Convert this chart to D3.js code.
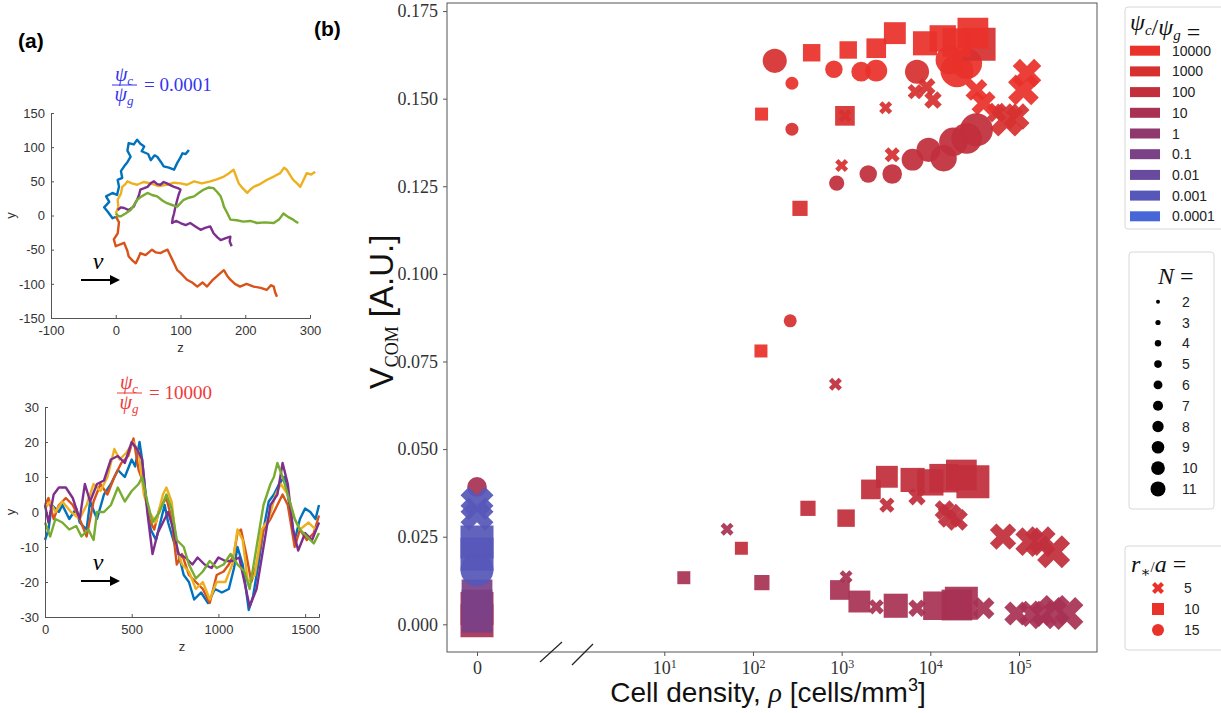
<!DOCTYPE html>
<html lang="en">
<head>
<meta charset="UTF-8">
<title>Cell cluster velocity</title>
<style>
  body { margin: 0; background: #fff; }
  svg { display: block; }
</style>
</head>
<body>
<script src="https://cdn.jsdelivr.net/npm/d3@7"></script>
<script>
// ---------- panel (a) data: hand-read trajectories [z, y] ----------
var walkBlueA  = [[0,-2],[-5,-4],[-12,5],[-18,12],[-10,20],[-15,28],[-5,33],[2,30],[5,42],[3,52],[10,55],[8,65],[13,72],[18,78],[23,86],[18,95],[20,106],[28,104],[33,111],[38,105],[44,101],[40,94],[50,90],[54,81],[60,88],[64,86],[70,78],[74,72],[82,70],[90,67],[95,77],[100,85],[103,91],[108,90],[113,96]];
var walkOrangeA = [[0,-1],[5,-10],[3,-26],[-3,-35],[0,-45],[8,-42],[13,-40],[18,-52],[20,-60],[26,-66],[31,-70],[35,-62],[38,-55],[46,-58],[56,-50],[62,-54],[69,-55],[75,-52],[80,-50],[86,-62],[90,-70],[95,-80],[100,-84],[106,-90],[110,-94],[118,-98],[126,-104],[134,-98],[141,-104],[149,-95],[156,-89],[162,-84],[167,-80],[172,-88],[177,-94],[184,-100],[192,-104],[202,-100],[213,-104],[224,-106],[233,-109],[240,-102],[244,-104],[246,-112],[249,-119]];
var walkYellowA = [[0,3],[4,12],[3,23],[8,32],[10,42],[15,46],[18,50],[25,47],[33,45],[43,49],[54,47],[66,43],[79,45],[90,48],[100,47],[110,45],[121,50],[133,47],[146,50],[156,53],[167,57],[175,62],[182,67],[186,57],[190,47],[196,40],[203,33],[208,38],[213,42],[223,46],[233,52],[244,57],[254,62],[260,70],[264,67],[270,58],[274,52],[280,47],[285,42],[290,52],[295,62],[302,60],[308,64]];
var walkPurpleA = [[3,8],[8,12],[13,11],[20,8],[28,13],[30,18],[33,23],[36,30],[38,38],[44,40],[49,42],[55,48],[59,50],[64,46],[69,45],[74,49],[79,47],[85,44],[90,42],[96,40],[100,38],[97,30],[95,23],[92,12],[90,3],[88,-4],[87,-11],[93,-8],[100,-11],[108,-14],[115,-11],[123,-16],[131,-21],[138,-18],[146,-16],[149,-22],[151,-26],[157,-32],[162,-36],[170,-33],[177,-31],[176,-38],[179,-45]];
var walkGreenA  = [[0,3],[4,-1],[8,-1],[15,3],[23,8],[28,15],[33,23],[40,28],[49,33],[56,30],[64,28],[72,22],[79,18],[88,15],[95,13],[100,18],[105,23],[113,26],[121,28],[128,33],[136,38],[144,41],[151,40],[157,34],[162,28],[165,20],[167,13],[172,4],[177,-6],[187,-7],[197,-9],[208,-8],[218,-11],[230,-10],[244,-11],[252,-6],[259,3],[266,-2],[274,-6],[278,-9],[282,-11]];

var walkBlueB   = [[0,-8],[20,-5],[40,2],[80,0],[100,2],[140,-2],[180,1],[200,-3],[240,-5],[260,3],[300,-2],[340,5],[380,8],[420,12],[460,10],[500,15],[520,13],[545,20],[560,15],[580,5],[610,-5],[640,-8],[670,-2],[690,2],[710,-3],[740,-8],[770,-12],[800,-18],[830,-20],[860,-25],[900,-23],[940,-26],[980,-22],[1020,-23],[1060,-22],[1090,-16],[1110,-10],[1140,-15],[1175,-28],[1200,-24],[1230,-15],[1260,-5],[1290,3],[1320,5],[1350,8],[1380,10],[1410,2],[1440,-8],[1470,-2],[1500,1],[1530,0],[1560,-2],[1580,2]];
var walkOrangeB = [[0,2],[20,4],[50,-2],[80,2],[120,4],[160,2],[200,-2],[240,-7],[280,3],[320,8],[360,5],[400,10],[440,14],[480,16],[510,21],[540,12],[570,8],[600,-2],[630,-5],[660,1],[700,4],[730,-2],[760,-15],[790,-12],[830,-18],[870,-20],[910,-22],[950,-26],[990,-18],[1030,-17],[1060,-15],[1090,-12],[1110,-6],[1130,-5],[1160,-12],[1190,-20],[1220,-15],[1260,-5],[1300,-2],[1340,2],[1370,5],[1400,2],[1440,-10],[1470,-5],[1510,-8],[1550,-6],[1580,-1]];
var walkYellowB = [[0,1],[30,3],[60,0],[100,3],[150,0],[200,-2],[240,2],[280,8],[320,6],[360,10],[400,18],[430,15],[470,17],[510,20],[540,17],[570,5],[600,0],[640,-3],[680,5],[700,7],[730,3],[760,-10],[790,-15],[830,-17],[870,-22],[910,-20],[950,-25],[990,-20],[1040,-20],[1080,-15],[1110,-5],[1140,-8],[1170,-20],[1210,-18],[1250,-5],[1290,-2],[1330,5],[1360,8],[1400,5],[1440,-2],[1470,-5],[1520,-3],[1560,-5],[1580,-3]];
var walkPurpleB = [[0,2],[20,-3],[50,5],[80,7],[120,7],[160,4],[200,-2],[230,8],[260,3],[300,8],[340,9],[380,15],[420,16],[460,14],[500,20],[530,18],[560,15],[590,0],[620,-12],[650,-6],[680,-3],[710,0],[740,-5],[770,-12],[810,-13],[850,-15],[880,-13],[920,-15],[960,-16],[1000,-13],[1040,-14],[1080,-14],[1120,-13],[1150,-20],[1180,-27],[1220,-22],[1260,-10],[1300,2],[1340,5],[1370,14],[1400,8],[1430,-5],[1460,-11],[1500,-6],[1540,-8],[1580,-3]];
var walkGreenB  = [[0,-3],[30,-7],[60,-2],[100,-3],[140,-5],[180,-4],[210,-7],[250,-5],[280,-8],[300,0],[340,0],[380,2],[420,7],[460,3],[500,6],[540,8],[560,10],[590,3],[620,-3],[660,0],[700,5],[730,1],[760,-8],[800,-10],[830,-15],[870,-19],[910,-17],[950,-14],[990,-16],[1030,-15],[1070,-12],[1110,-15],[1150,-17],[1180,-22],[1220,-10],[1260,2],[1300,8],[1320,10],[1340,14],[1370,10],[1400,5],[1440,-2],[1470,-5],[1510,-7],[1550,-9],[1580,-6]];

// ---------- panel (b) data: [rho cells/mm3, V_COM, N] ----------
var psiLabels = ["10000","1000","100","10","1","0.1","0.01","0.001","0.0001"];
var nValues = [2,3,4,5,6,7,8,9,10,11];
var rLabels = ["5","10","15"];

var circ10000 = [[818,0.1584,4],[275,0.1544,2],[1660,0.1577,5],[2455,0.1580,6],[16596,0.1610,9],[25704,0.1600,10],[19953,0.1580,11]];
var circ1000  = [[176,0.1608,7],[275,0.1413,2],[263,0.0866,2],[7079,0.1577,7]];
var circ100   = [[879,0.1259,3],[1995,0.1285,4],[3715,0.1285,5],[6310,0.1326,6],[9550,0.1354,7],[14125,0.1330,8],[18197,0.1377,9],[25704,0.1387,10],[33113,0.1411,11]];
var sq10000   = [[459,0.1631,4],[1186,0.1639,4],[125,0.1456,2],[123,0.0780,2],[2455,0.1644,5],[3981,0.1687,6],[8710,0.1658,7],[13804,0.1672,8],[19953,0.1660,9],[30200,0.1687,10]];
var sq1000    = [[1089,0.1451,5],[339,0.1187,3],[35481,0.1655,11]];
var sq100     = [[74,0.0217,2],[417,0.0331,3],[1122,0.0303,4],[2138,0.0385,5],[3236,0.0421,6],[6310,0.0412,7],[10000,0.0405,8],[14125,0.0417,9],[22387,0.0426,10],[30200,0.0407,11]];
var sq10      = [[16.6,0.0133,2],[126,0.0119,3],[955,0.0098,5],[1585,0.0065,6],[4074,0.0053,7],[12023,0.0053,9],[19953,0.0055,10],[22387,0.0060,11]];
var x10000    = [[1089,0.1451,2],[33113,0.1525,6],[39811,0.1487,7],[123027,0.1573,9],[112202,0.1525,10]];
var x1000     = [[3133,0.1474,2],[1000,0.1309,2],[3715,0.1340,3],[6761,0.1520,3],[9120,0.1534,4],[10715,0.1496,4],[56234,0.1460,5],[93325,0.1449,8],[72444,0.1439,11]];
var x100      = [[851,0.0685,2],[3236,0.0340,3],[7079,0.0364,4],[14454,0.0326,5],[19953,0.0298,6],[16596,0.0310,7],[66069,0.0250,8],[131826,0.0236,9],[173780,0.0236,10],[245471,0.0207,11]];
var x10       = [[51,0.0271,2],[1122,0.0136,2],[2455,0.0050,3],[7079,0.0046,4],[39811,0.0046,6],[93325,0.0031,7],[141254,0.0030,8],[186209,0.0027,9],[251189,0.0040,10],[346737,0.0031,11]];
// isolated cells (rho = 0)
var zeroCirc10  = [[0,0.0392,5]];
var zeroSq10    = [[0,0.0010,11],[0,0.0045,11]];
var zeroSq01    = [[0,0.0020,10],[0,0.0055,10],[0,0.0084,10]];
var zeroSq0001  = [[0,0.0235,11],[0,0.0200,11]];
var zeroCirc0001 = [[0,0.0155,11]];
var zeroX0001   = [[0,0.0345,11],[0,0.0315,11]];

var psiColors = ["#e8322a","#d6302f","#c22e3c","#a83154","#8f386d","#7b4186","#684a9f","#5657b8","#4766d8"];
var walkColors = ["#0072BD","#D95319","#EDB120","#7E2F8E","#77AC30"];
var sans = "'Liberation Sans', Arial, sans-serif";
var serif = "'Liberation Serif', 'DejaVu Serif', serif";

var svg = d3.select("body").append("svg").attr("width", 1221).attr("height", 713);

// ================= panel (a) =================
function walkPanel(opts) {
  var x = d3.scaleLinear().domain(opts.xd).range(opts.xr);
  var y = d3.scaleLinear().domain(opts.yd).range(opts.yr);
  var g = svg.append("g");
  var line = d3.line().x(function(d){ return x(d[0]); }).y(function(d){ return y(d[1]); });
  opts.walks.forEach(function(w, i) {
    g.append("path").datum(w).attr("d", line).attr("fill", "none")
      .attr("stroke", walkColors[i]).attr("stroke-width", 2.4).attr("stroke-linejoin", "round");
  });
  var plain = function(d) { return String(d); };
  var ax = g.append("g").attr("transform", "translate(0," + opts.yr[0] + ")")
    .call(d3.axisBottom(x).tickValues(opts.xt).tickFormat(plain).tickSize(-3).tickPadding(8));
  var ay = g.append("g").attr("transform", "translate(" + opts.xr[0] + ",0)")
    .call(d3.axisLeft(y).tickValues(opts.yt).tickFormat(plain).tickSize(-3).tickPadding(6));
  [ax, ay].forEach(function(a) {
    a.selectAll("text").attr("font-family", sans).attr("font-size", 13).attr("fill", "#333");
    a.selectAll("line, path").attr("stroke", "#555");
  });
  g.append("text").attr("x", (opts.xr[0] + opts.xr[1]) / 2).attr("y", opts.yr[0] + 34)
    .attr("text-anchor", "middle").attr("font-family", sans).attr("font-size", 13).attr("fill", "#333").text("z");
  g.append("text").attr("transform", "translate(15," + (opts.yr[0] + opts.yr[1]) / 2 + ") rotate(-90)")
    .attr("text-anchor", "middle").attr("font-family", sans).attr("font-size", 13).attr("fill", "#333").text("y");
  // title: psi_c / psi_g = value
  var t = g.append("g").attr("transform", "translate(" + opts.tx + "," + opts.ty + ")")
    .attr("fill", opts.tc).attr("font-family", serif).attr("font-style", "italic");
  var num = t.append("text").attr("x", 12).attr("y", -4).attr("text-anchor", "middle").attr("font-size", 20).text("ψ");
  num.append("tspan").attr("font-size", 13).attr("dy", 4).text("c");
  var den = t.append("text").attr("x", 12).attr("y", 16).attr("text-anchor", "middle").attr("font-size", 20).text("ψ");
  den.append("tspan").attr("font-size", 13).attr("dy", 4).text("g");
  t.append("line").attr("x1", 0).attr("x2", 25).attr("y1", 0).attr("y2", 0).attr("stroke", opts.tc).attr("stroke-width", 1);
  t.append("text").attr("x", 32).attr("y", 6).attr("font-style", "normal").attr("font-size", 19).text("= " + opts.tv);
  // velocity arrow
  g.append("line").attr("x1", 81).attr("x2", 113).attr("y1", opts.ay).attr("y2", opts.ay)
    .attr("stroke", "#000").attr("stroke-width", 2);
  g.append("path").attr("d", "M" + 120 + "," + opts.ay + "l-10,-5l0,10z").attr("fill", "#000");
  g.append("text").attr("x", 98).attr("y", opts.ay - 11).attr("text-anchor", "middle")
    .attr("font-family", serif).attr("font-style", "italic").attr("font-size", 24).text("v");
}

walkPanel({
  xd: [-100, 300], xr: [51, 310], yd: [-150, 150], yr: [318, 113],
  xt: [-100, 0, 100, 200, 300], yt: [-150, -100, -50, 0, 50, 100, 150],
  walks: [walkBlueA, walkOrangeA, walkYellowA, walkPurpleA, walkGreenA],
  tx: 112, ty: 85, tc: "#3535f0", tv: "0.0001", ay: 280
});
walkPanel({
  xd: [0, 1580], xr: [45, 319], yd: [-30, 30], yr: [617, 407],
  xt: [0, 500, 1000, 1500], yt: [-30, -20, -10, 0, 10, 20, 30],
  walks: [walkBlueB, walkOrangeB, walkYellowB, walkPurpleB, walkGreenB],
  tx: 117, ty: 393, tc: "#f03a3a", tv: "10000", ay: 581
});

svg.append("text").attr("x", 18).attr("y", 48).attr("font-family", sans).attr("font-weight", "bold")
  .attr("font-size", 21).text("(a)");
svg.append("text").attr("x", 314).attr("y", 36).attr("font-family", sans).attr("font-weight", "bold")
  .attr("font-size", 21).text("(b)");

// ================= panel (b) =================
var L = 447, R = 1097, T = 3, B = 652;
var xZero = d3.scaleLinear().domain([-1, 1]).range([447, 507]);
var xLog = d3.scaleLog().domain([10, 1e5]).range([664.3, 1019]);
var y = d3.scaleLinear().domain([-0.0079, 0.1773]).range([B, T]);
var sizeN = d3.scaleLinear().domain([2, 11]).range([13, 33]);
var legSizeN = d3.scaleLinear().domain([2, 11]).range([4, 15]);
function xPos(rho) { return rho === 0 ? xZero(0) : xLog(rho); }

function symbolFor(shape, s) {
  if (shape === "x") return d3.symbol(d3.symbolCross, 0.625 * s * s)();
  if (shape === "s") return d3.symbol(d3.symbolSquare, s * s)();
  return d3.symbol(d3.symbolCircle, Math.PI * s * s / 4)();
}

var groups = [
  { pts: zeroCirc10, psi: 3, shape: "o" },
  { pts: zeroSq10, psi: 3, shape: "s" },
  { pts: zeroSq01, psi: 5, shape: "s" },
  { pts: zeroSq0001, psi: 7, shape: "s" },
  { pts: zeroCirc0001, psi: 7, shape: "o" },
  { pts: zeroX0001, psi: 7, shape: "x" },
  { pts: sq10, psi: 3, shape: "s" },
  { pts: x10, psi: 3, shape: "x" },
  { pts: x100, psi: 2, shape: "x" },
  { pts: sq100, psi: 2, shape: "s" },
  { pts: x1000, psi: 1, shape: "x" },
  { pts: x10000, psi: 0, shape: "x" },
  { pts: circ100, psi: 2, shape: "o" },
  { pts: circ1000, psi: 1, shape: "o" },
  { pts: circ10000, psi: 0, shape: "o" },
  { pts: sq1000, psi: 1, shape: "s" },
  { pts: sq10000, psi: 0, shape: "s" }
];

var plot = svg.append("g");
groups.forEach(function(gr) {
  plot.append("g").selectAll("path").data(gr.pts).enter().append("path")
    .attr("transform", function(d) {
      return "translate(" + xPos(d[0]) + "," + y(d[1]) + ")" + (gr.shape === "x" ? " rotate(45)" : "");
    })
    .attr("d", function(d) { return symbolFor(gr.shape, sizeN(d[2])); })
    .attr("fill", psiColors[gr.psi]).attr("fill-opacity", 0.93);
});

// frame
svg.append("rect").attr("x", L).attr("y", T).attr("width", R - L).attr("height", B - T)
  .attr("fill", "none").attr("stroke", "#555").attr("stroke-width", 1);

// y axis
var yAx = svg.append("g").attr("transform", "translate(" + L + ",0)")
  .call(d3.axisLeft(y).tickValues(d3.range(0, 0.176, 0.025)).tickFormat(d3.format(".3f")).tickSize(4).tickPadding(5));
yAx.select(".domain").remove();
yAx.selectAll("line").attr("stroke", "#555");
yAx.selectAll("text").attr("font-family", serif).attr("font-size", 18).attr("fill", "#333");

// x axes (zero part + log part)
var x0Ax = svg.append("g").attr("transform", "translate(0," + B + ")")
  .call(d3.axisBottom(xZero).tickValues([0]).tickFormat(function(){ return "0"; }).tickSize(4).tickPadding(5));
var xLAx = svg.append("g").attr("transform", "translate(0," + B + ")")
  .call(d3.axisBottom(xLog).tickValues([10, 100, 1e3, 1e4, 1e5]).tickFormat(function(){ return "10"; }).tickSize(4).tickPadding(5));
[x0Ax, xLAx].forEach(function(a) {
  a.select(".domain").remove();
  a.selectAll("line").attr("stroke", "#555");
  a.selectAll("text").attr("font-family", serif).attr("font-size", 18).attr("fill", "#333");
});
xLAx.selectAll(".tick text").each(function(d) {
  d3.select(this).append("tspan").attr("dy", "-0.45em").attr("font-size", 12).text(Math.round(Math.log10(d)));
});

// axis break marks
svg.append("line").attr("x1", 540).attr("y1", 662).attr("x2", 562).attr("y2", 642).attr("stroke", "#222").attr("stroke-width", 1.2);
svg.append("line").attr("x1", 572).attr("y1", 665).attr("x2", 593).attr("y2", 644).attr("stroke", "#222").attr("stroke-width", 1.2);

// axis titles
var xl = svg.append("text").attr("x", 768).attr("y", 702).attr("text-anchor", "middle")
  .attr("font-family", sans).attr("font-size", 28).attr("fill", "#111");
xl.append("tspan").text("Cell density, ");
xl.append("tspan").attr("font-family", serif).attr("font-style", "italic").text("ρ");
xl.append("tspan").text(" [cells/mm");
xl.append("tspan").attr("font-size", 18).attr("dy", -11).text("3");
xl.append("tspan").attr("dy", 11).text("]");

var yl = svg.append("text").attr("transform", "translate(393,312) rotate(-90)").attr("text-anchor", "middle")
  .attr("font-family", sans).attr("font-size", 33).attr("fill", "#111");
yl.append("tspan").text("V");
yl.append("tspan").attr("font-family", serif).attr("font-size", 18).attr("dy", 5).text("COM");
yl.append("tspan").attr("dy", -5).text(" [A.U.]");

// ================= legends =================
function legBox(x0, y0, w, h) {
  svg.append("rect").attr("x", x0).attr("y", y0).attr("width", w).attr("height", h).attr("rx", 3)
    .attr("fill", "#fff").attr("stroke", "#d8d8d8").attr("stroke-width", 1);
}
function mathTitle(x0, y0, parts) {
  var t = svg.append("text").attr("x", x0).attr("y", y0).attr("font-family", serif)
    .attr("font-size", 24).attr("fill", "#111");
  parts.forEach(function(p) {
    var s = t.append("tspan").text(p[0]);
    if (p[1]) s.attr("font-style", "italic");
    if (p[2]) s.attr("font-size", 15).attr("dy", p[2]);
  });
}

// psi legend
legBox(1125, 7, 100, 222);
mathTitle(1130, 30, [["ψ", 1], ["c", 1, 5], ["/", 0, 0], ["ψ", 1, 0], ["g", 1, 5], [" =", 0, 0]]);
var lg1 = svg.append("g").selectAll("g").data(psiLabels).enter().append("g")
  .attr("transform", function(d, i) { return "translate(0," + (50.7 + i * 20.7) + ")"; });
lg1.append("rect").attr("x", 1130).attr("y", -5).attr("width", 30).attr("height", 10)
  .attr("fill", function(d, i) { return psiColors[i]; });
lg1.append("text").attr("x", 1172).attr("y", 5).attr("font-family", sans).attr("font-size", 14)
  .attr("fill", "#222").text(function(d) { return d; });

// N legend
legBox(1129, 252, 85, 257);
mathTitle(1158, 284, [["N", 1], [" =", 0]]);
var lg2 = svg.append("g").selectAll("g").data(nValues).enter().append("g")
  .attr("transform", function(d, i) { return "translate(1158," + (301.7 + i * 20.8) + ")"; });
lg2.append("circle").attr("r", function(d) { return legSizeN(d) / 2; }).attr("fill", "#000");
lg2.append("text").attr("x", 24).attr("y", 5).attr("font-family", sans).attr("font-size", 14)
  .attr("fill", "#222").text(function(d) { return d; });

// r*/a legend
legBox(1125, 546, 100, 104);
mathTitle(1131, 572, [["r", 1], ["∗", 0, 5], ["/", 0, -5], ["a", 1], [" =", 0]]);
var shapes = ["x", "s", "o"];
var lg3 = svg.append("g").selectAll("g").data(rLabels).enter().append("g")
  .attr("transform", function(d, i) { return "translate(1158," + (588 + i * 21) + ")"; });
lg3.append("path").attr("transform", function(d, i) { return shapes[i] === "x" ? "rotate(45)" : null; })
  .attr("d", function(d, i) { return symbolFor(shapes[i], 12); }).attr("fill", psiColors[0]);
lg3.append("text").attr("x", 26).attr("y", 5).attr("font-family", sans).attr("font-size", 14)
  .attr("fill", "#222").text(function(d) { return d; });
</script>
</body>
</html>
